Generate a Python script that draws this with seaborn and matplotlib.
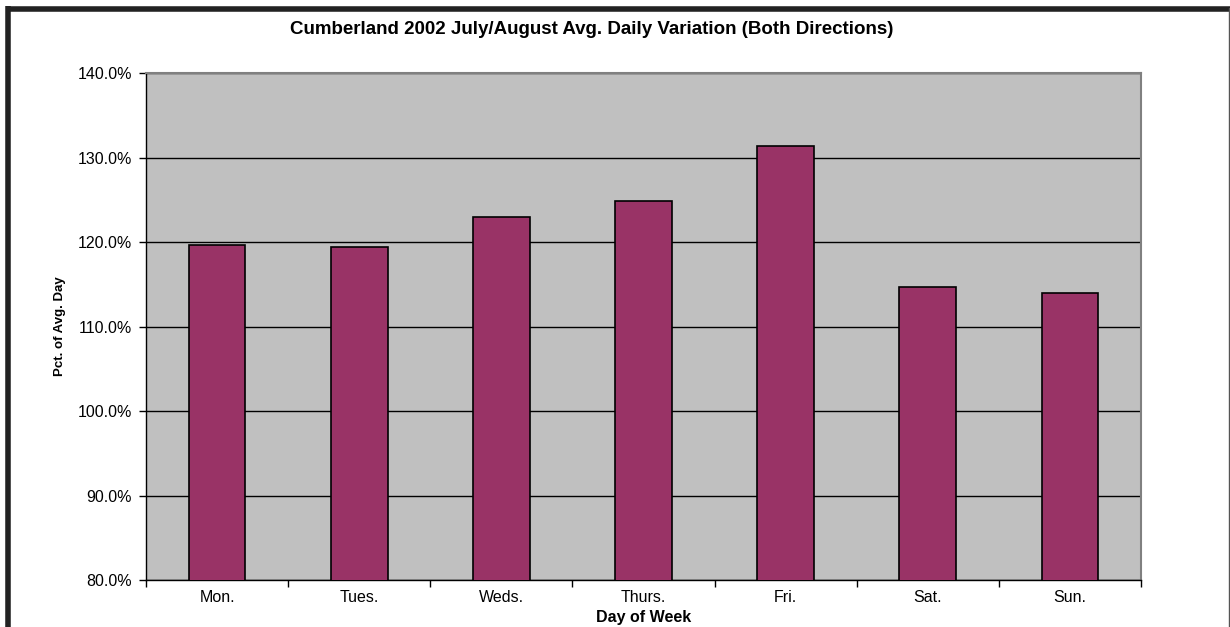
import matplotlib
matplotlib.use("Agg")
import matplotlib.pyplot as plt
from matplotlib.lines import Line2D
from matplotlib.ticker import FixedLocator, FuncFormatter
import seaborn as sns
import pandas as pd

# 数据
days = ["Mon.", "Tues.", "Weds.", "Thurs.", "Fri.", "Sat.", "Sun."]
pct_of_avg = [119.7, 119.4, 123.0, 124.8, 131.4, 114.7, 114.0]
y_ticks = [80, 90, 100, 110, 120, 130, 140]

sns.set_style("white")
plt.rcParams["font.family"] = ["Liberation Sans", "DejaVu Sans"]
plt.rcParams["text.color"] = "black"
plt.rcParams["axes.labelcolor"] = "black"
plt.rcParams["xtick.color"] = "black"
plt.rcParams["ytick.color"] = "black"

df = pd.DataFrame({"day": days, "pct": pct_of_avg})

fig = plt.figure(figsize=(12.3, 6.27), dpi=100)
ax = fig.add_axes([146 / 1230, 1 - 580 / 627, 995 / 1230, 507 / 627])
ax.set_facecolor("#C0C0C0")

sns.barplot(data=df, x="day", y="pct", color="#993366", width=0.4,
            edgecolor="black", linewidth=1.2, saturation=1, ax=ax, zorder=3)

ax.set_xlim(-0.5, len(days) - 0.5)
ax.set_ylim(80, 140)
ax.yaxis.set_major_locator(FixedLocator(y_ticks))
ax.yaxis.set_major_formatter(FuncFormatter(lambda v, p: f"{v:.1f}%"))
ax.grid(axis="y", color="black", linewidth=1, zorder=1)
ax.set_axisbelow(True)

# x 刻度在类别边界
ax.set_xticks(range(len(days)))
ax.set_xticklabels(days, fontsize=11.5)
ax.set_xticks([i - 0.5 for i in range(len(days) + 1)], minor=True)
ax.tick_params(axis="x", which="major", length=0, pad=7)
ax.tick_params(axis="x", which="minor", length=5, width=1, color="black", direction="out")
ax.tick_params(axis="y", length=5, width=1, color="black", direction="out", labelsize=11.5, pad=5)
ax.tick_params(bottom=True, left=True, which="both")

for s in ["top", "right"]:
    ax.spines[s].set_color("#808080")
    ax.spines[s].set_linewidth(1.5)
for s in ["left", "bottom"]:
    ax.spines[s].set_color("black")
    ax.spines[s].set_linewidth(1)

ax.set_xlabel("Day of Week", fontsize=11.5, fontweight="bold", labelpad=4)
ax.set_ylabel("Pct. of Avg. Day", fontsize=9.5, fontweight="bold", labelpad=8)

fig.text(592 / 1230, 1 - 30 / 627, "Cumberland 2002 July/August Avg. Daily Variation (Both Directions)",
         ha="center", va="center", fontsize=13.5, fontweight="bold")

# 外框
fig.add_artist(Line2D([8 / 1230, 1], [1 - 8.5 / 627] * 2, transform=fig.transFigure,
                      color="#222222", linewidth=4, solid_capstyle="butt"))
fig.add_artist(Line2D([8 / 1230] * 2, [0, 1 - 6 / 627], transform=fig.transFigure,
                      color="#222222", linewidth=4, solid_capstyle="butt"))
fig.add_artist(Line2D([1229 / 1230] * 2, [0, 1 - 8 / 627], transform=fig.transFigure,
                      color="#555555", linewidth=1))

fig.savefig("out.png", dpi=100, facecolor="white")
